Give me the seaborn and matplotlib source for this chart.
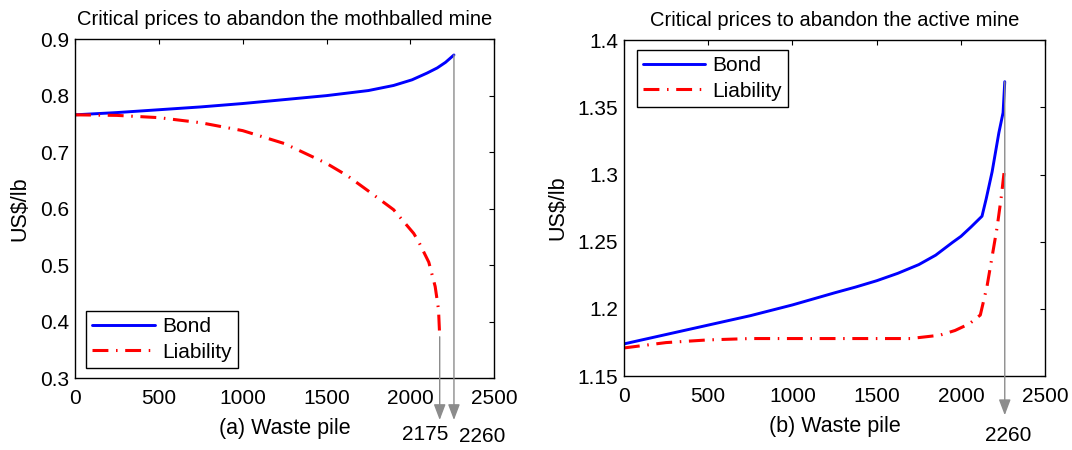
import matplotlib
matplotlib.use("Agg")
import matplotlib.pyplot as plt
from matplotlib.ticker import FuncFormatter, MultipleLocator
import numpy as np
import pandas as pd
import seaborn as sns

# ---- data: waste pile level vs. critical abandonment price (US$/lb) ----
moth_bond_x = [0, 250, 500, 750, 1000, 1250, 1500, 1750, 1900, 2010, 2100, 2160, 2210, 2260]
moth_bond_y = [0.766, 0.770, 0.775, 0.780, 0.786, 0.793, 0.800, 0.809, 0.818, 0.828, 0.840, 0.849, 0.859, 0.872]

moth_liab_x = [0, 250, 500, 750, 1000, 1250, 1500, 1625, 1750, 1900, 2020, 2050, 2110, 2148, 2168, 2175]
moth_liab_y = [0.766, 0.765, 0.761, 0.752, 0.738, 0.715, 0.680, 0.658, 0.631, 0.598, 0.556, 0.541, 0.505, 0.462, 0.421, 0.373]

active_bond_x = [0, 250, 500, 750, 1000, 1125, 1250, 1375, 1500, 1625, 1750, 1850, 1950, 2000, 2060, 2125,
                 2150, 2185, 2225, 2250, 2260]
active_bond_y = [1.174, 1.181, 1.188, 1.195, 1.203, 1.2075, 1.212, 1.2163, 1.221, 1.2265, 1.233, 1.240, 1.2495,
                 1.254, 1.261, 1.269, 1.282, 1.302, 1.331, 1.346, 1.369]

active_liab_x = [0, 250, 500, 750, 1000, 1250, 1500, 1700, 1875, 1965, 2050, 2115, 2155, 2185, 2215, 2240, 2260]
active_liab_y = [1.171, 1.175, 1.177, 1.178, 1.178, 1.178, 1.178, 1.178, 1.1805, 1.184, 1.189, 1.1955, 1.217,
                 1.239, 1.261, 1.284, 1.306]

moth_limits = [2175, 2260]
active_limits = [2260]

series_names = ["Bond", "Liability"]
titles = ["Critical prices to abandon the mothballed mine",
          "Critical prices to abandon the active mine"]
xlabels = ["(a) Waste pile", "(b) Waste pile"]
ylabel = "US$/lb"

sns.set_theme(style="white")
plt.rcParams["font.family"] = ["Liberation Sans", "DejaVu Sans"]
plt.rcParams["axes.edgecolor"] = "black"
plt.rcParams["axes.linewidth"] = 1.0
plt.rcParams["text.color"] = "black"
plt.rcParams["axes.labelcolor"] = "black"
plt.rcParams["axes.titlecolor"] = "black"

BLUE = "#0000ff"
RED = "#ff0000"
GREY = "#8c8c8c"
dashdot = (0, (5.2, 2.5, 0.5, 2.5))

TICK_FS = 15
LABEL_FS = 15.5
TITLE_FS = 14.5
LEGEND_FS = 15

fig = plt.figure(figsize=(10.72, 4.5), dpi=100)
ax1 = fig.add_axes([0.070, 0.160, 0.391, 0.753])
ax2 = fig.add_axes([0.582, 0.164, 0.393, 0.747])


def draw_panel(ax, bx, by, lx, ly):
    bond = pd.DataFrame({"x": bx, "y": by})
    liab = pd.DataFrame({"x": lx, "y": ly})
    sns.lineplot(data=bond, x="x", y="y", ax=ax, color=BLUE, lw=2.1,
                 label=series_names[0], sort=False)
    sns.lineplot(data=liab, x="x", y="y", ax=ax, color=RED, lw=2.2,
                 linestyle=dashdot, label=series_names[1], sort=False)


def style_axes(ax, title, xlabel, ylim, ystep):
    ax.set_xlim(0, 2500)
    ax.set_ylim(*ylim)
    ax.xaxis.set_major_locator(MultipleLocator(500))
    ax.yaxis.set_major_locator(MultipleLocator(ystep))
    ax.yaxis.set_major_formatter(FuncFormatter(lambda v, p: f"{v:g}"))
    ax.tick_params(direction="in", length=3.6, width=0.8, top=True, right=True,
                   labelsize=TICK_FS, colors="black")
    ax.tick_params(axis="x", pad=8)
    ax.tick_params(axis="y", pad=4)
    ax.set_title(title, fontsize=TITLE_FS, pad=10)
    ax.set_xlabel(xlabel, fontsize=LABEL_FS, labelpad=7)
    ax.set_ylabel(ylabel, fontsize=LABEL_FS, labelpad=7)
    for s in ax.spines.values():
        s.set_visible(True)
        s.set_color("black")


def mark_limit(ax, x0, y0, label_x, tip_frac, label_frac):
    ax.annotate("", xy=(x0, tip_frac), xycoords=("data", "axes fraction"),
                xytext=(x0, y0), textcoords="data", annotation_clip=False,
                arrowprops=dict(arrowstyle="-|>,head_length=0.95,head_width=0.36",
                                mutation_scale=10, color=GREY, lw=1.0,
                                shrinkA=0, shrinkB=0))
    ax.annotate(f"{x0}", xy=(label_x, label_frac), xycoords=("data", "axes fraction"),
                ha="center", va="center", fontsize=TICK_FS, annotation_clip=False)


def set_legend(ax, loc, anchor):
    leg = ax.legend(loc=loc, bbox_to_anchor=anchor, fontsize=LEGEND_FS, frameon=True,
                    fancybox=False, shadow=False, handlelength=3.0, handletextpad=0.35,
                    borderpad=0.3, labelspacing=0.3, borderaxespad=0)
    leg.get_frame().set_edgecolor("black")
    leg.get_frame().set_linewidth(1.0)
    leg.get_frame().set_alpha(1)


# left panel: mothballed mine
draw_panel(ax1, moth_bond_x, moth_bond_y, moth_liab_x, moth_liab_y)
style_axes(ax1, titles[0], xlabels[0], (0.3, 0.9), 0.1)
mark_limit(ax1, moth_limits[0], moth_liab_y[-1], 2088, -0.124, -0.168)
mark_limit(ax1, moth_limits[1], moth_bond_y[-1], 2428, -0.124, -0.172)
set_legend(ax1, "lower left", (0.026, 0.03))

# right panel: active mine
draw_panel(ax2, active_bond_x, active_bond_y, active_liab_x, active_liab_y)
style_axes(ax2, titles[1], xlabels[1], (1.15, 1.4), 0.05)
mark_limit(ax2, active_limits[0], active_bond_y[-1], 2280, -0.116, -0.176)
set_legend(ax2, "upper left", (0.030, 0.970))

fig.savefig("out.png", dpi=100)
